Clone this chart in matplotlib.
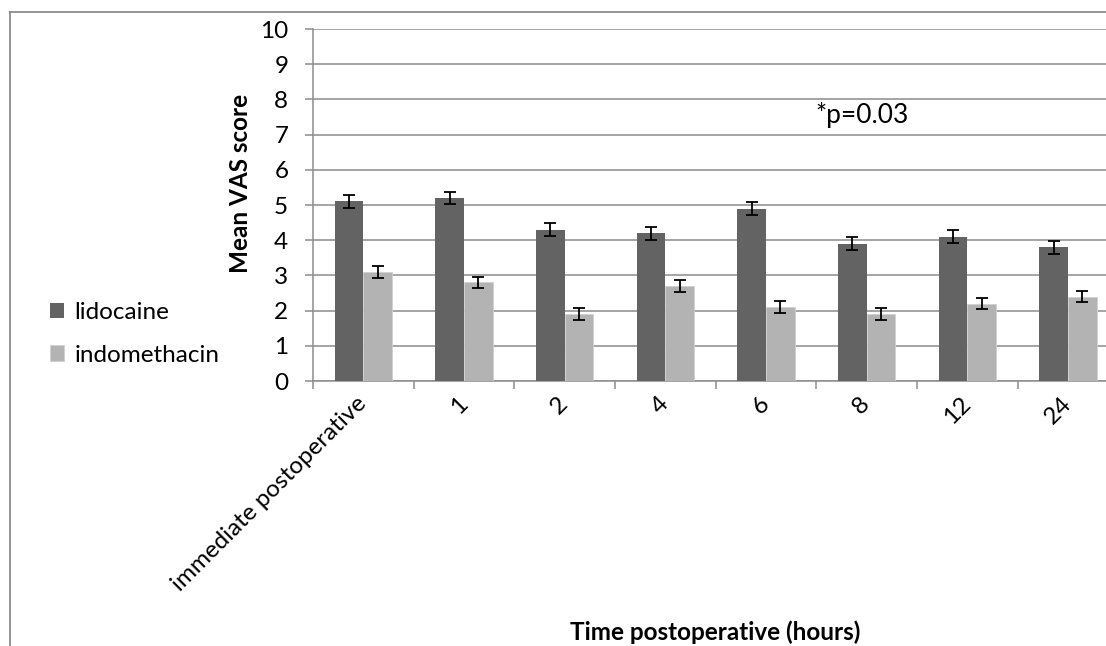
import numpy as np
import matplotlib.pyplot as plt
from matplotlib.lines import Line2D

plt.rcParams['font.family'] = ['Lato', 'DejaVu Sans']

categories = ['immediate postoperative', '1', '2', '4', '6', '8', '12', '24']
lidocaine = [5.1, 5.2, 4.3, 4.2, 4.9, 3.9, 4.1, 3.8]
indomethacin = [3.1, 2.8, 1.9, 2.7, 2.1, 1.9, 2.2, 2.4]
lido_err = [0.18] * 8
indo_err = [0.16] * 8

dark = '#636363'
light = '#b3b3b3'
grid_c = '#8c8c8c'

fig = plt.figure(figsize=(11.06, 6.46), dpi=100)
ax = fig.add_axes([0.283, 0.4102, 0.728, 0.5449])

x = np.arange(len(categories))
w = 0.285
ax.bar(x - w / 2, lidocaine, w, color=dark, label='lidocaine', zorder=3,
       yerr=lido_err, error_kw=dict(ecolor='black', capsize=4.5, elinewidth=1.3, capthick=1.3))
ax.bar(x + w / 2, indomethacin, w, color=light, label='indomethacin', zorder=3,
       edgecolor='#d0d0d0', linewidth=0.6,
       yerr=indo_err, error_kw=dict(ecolor='black', capsize=4.5, elinewidth=1.3, capthick=1.3))

ax.set_xlim(-0.5, len(categories) - 0.5)
ax.set_ylim(0, 10)
ax.set_yticks(range(0, 11))
ax.yaxis.grid(True, color=grid_c, linewidth=1.1, zorder=0)
ax.set_axisbelow(True)

ax.set_xticks(x)
ax.set_xticklabels(categories, rotation=45, ha='right', va='center',
                   rotation_mode='anchor', fontsize=17.5)
ax.set_xticks(np.arange(-0.5, len(categories)), minor=True)
ax.tick_params(axis='x', which='major', length=0, pad=14)
ax.tick_params(axis='x', which='minor', length=5.5, color=grid_c, width=1.1)
ax.tick_params(axis='y', length=5.8, color=grid_c, width=1.1, labelsize=17.5, pad=12)

for s in ['top', 'right']:
    ax.spines[s].set_visible(False)
for s in ['left', 'bottom']:
    ax.spines[s].set_color(grid_c)
    ax.spines[s].set_linewidth(1.1)

ax.text(4.96, 7.55, '*p=0.03', ha='center', va='center', fontsize=19)

fig.text(240 / 1106, 1 - 183 / 646, 'Mean VAS score', rotation=90,
         ha='center', va='center', fontsize=17.5, fontweight='bold')
fig.text(715 / 1106, 1 - 632 / 646, 'Time postoperative (hours)',
         ha='center', va='center', fontsize=17.5, fontweight='bold')

leg = fig.legend(loc='upper left', bbox_to_anchor=(28 / 1106, 1 - 280 / 646),
                 frameon=False, fontsize=17.5, handlelength=0.6, handleheight=0.6,
                 handletextpad=0.4, labelspacing=0.9)

# outer chart frame
fig.add_artist(Line2D([10 / 1106, 10 / 1106], [0, 1 - 11.5 / 646],
                      transform=fig.transFigure, color=grid_c, linewidth=1.3))
fig.add_artist(Line2D([10 / 1106, 1], [1 - 11.5 / 646, 1 - 11.5 / 646],
                      transform=fig.transFigure, color=grid_c, linewidth=1.3))

fig.savefig('out.png', dpi=100)
